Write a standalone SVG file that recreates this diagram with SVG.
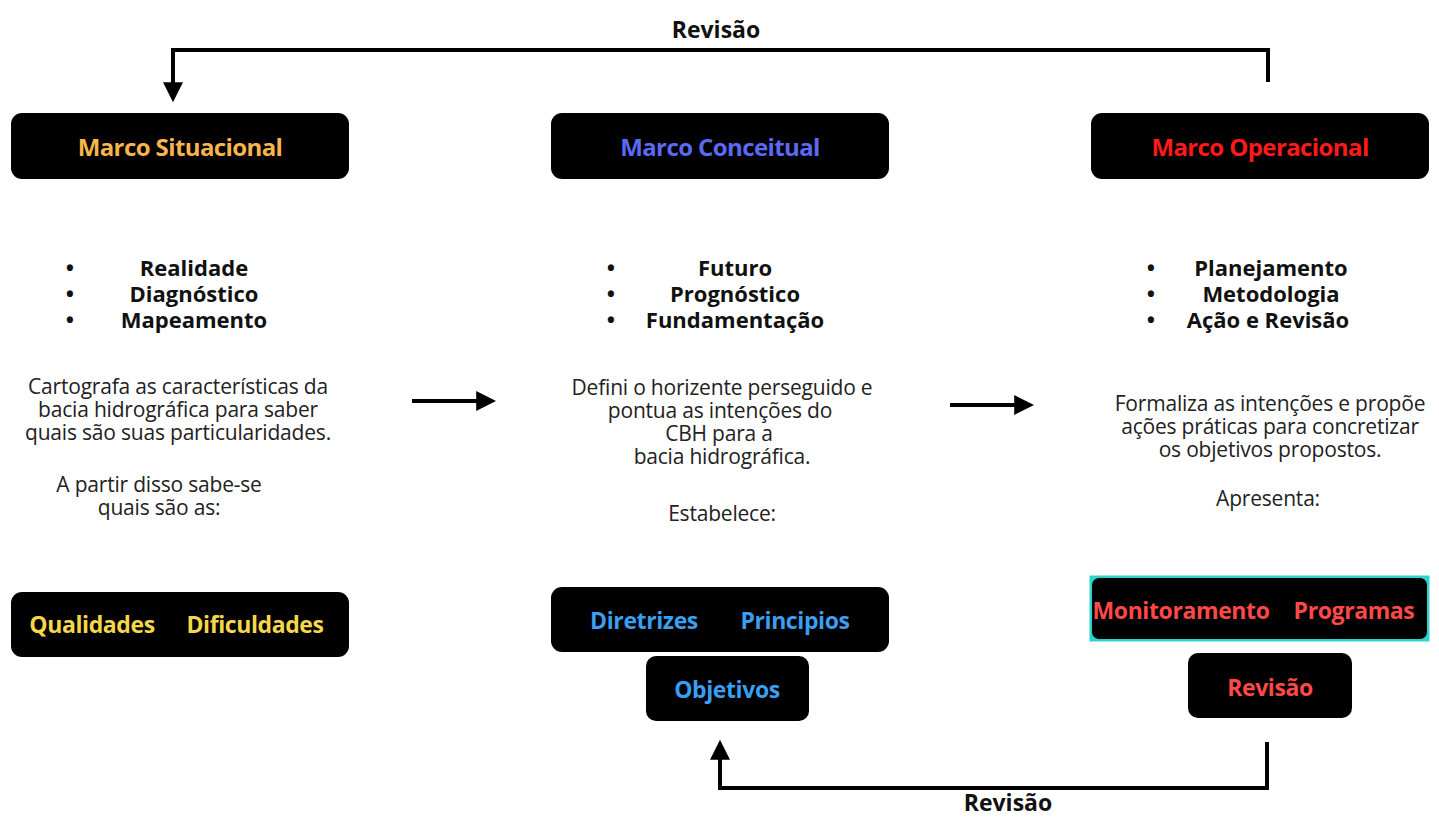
<svg xmlns="http://www.w3.org/2000/svg" width="1439" height="818" viewBox="0 0 1439 818">
  <style>
    .box { fill: #000; }
    .hdr { font-family: "Open Sans", "Liberation Sans", sans-serif; font-weight: 700; font-size: 24px; text-anchor: middle; letter-spacing: -0.6px; }
    .tag { font-family: "Open Sans", "Liberation Sans", sans-serif; font-weight: 700; font-size: 23px; text-anchor: middle; letter-spacing: -0.4px; }
    .bul { font-family: "Open Sans", "Liberation Sans", sans-serif; font-weight: 700; font-size: 22px; fill: #111; text-anchor: middle; }
    .txt { font-family: "Open Sans", "Liberation Sans", sans-serif; font-size: 21px; fill: #222; text-anchor: middle; letter-spacing: -0.2px; }
    .lbl { font-family: "Open Sans", "Liberation Sans", sans-serif; font-weight: 700; font-size: 23px; fill: #111; text-anchor: middle; }
    .wire { fill: none; stroke: #000; stroke-width: 4; }
  </style>
  <defs>
    <marker id="head" markerWidth="5" markerHeight="5" refX="2.2" refY="2.5" orient="auto" markerUnits="strokeWidth">
      <path d="M0,0 L5,2.5 L0,5 z" fill="#000"/>
    </marker>
  </defs>
  <rect width="1439" height="818" fill="#fff"/>

  <!-- connectors -->
  <g id="connectors">
    <path class="wire" d="M1268,82 V50 H173 V91" marker-end="url(#head)"/>
    <path class="wire" d="M1267,742 V788 H720 V751" marker-end="url(#head)"/>
    <path class="wire" d="M412,401 H485" marker-end="url(#head)"/>
    <path class="wire" d="M950,405 H1023" marker-end="url(#head)"/>
    <text class="lbl" x="716" y="38">Revisão</text>
    <text class="lbl" x="1008" y="811">Revisão</text>
  </g>

  <!-- situational frame -->
  <g id="marco-situacional">
    <rect class="box" x="11" y="113" width="338" height="66" rx="11"/>
    <text class="hdr" x="180" y="156" fill="#f7b54c">Marco Situacional</text>
  </g>
  <g id="situacional-texto">
    <text class="bul"><tspan x="70" y="276">•</tspan><tspan x="70" y="302">•</tspan><tspan x="70" y="328">•</tspan></text>
    <text class="bul"><tspan x="194" y="276">Realidade</tspan><tspan x="194" y="302">Diagnóstico</tspan><tspan x="194" y="328">Mapeamento</tspan></text>
    <text class="txt"><tspan x="178" y="394">Cartografa as características da</tspan><tspan x="178" y="417">bacia hidrográfica para saber</tspan><tspan x="178" y="440">quais são suas particularidades.</tspan></text>
    <text class="txt"><tspan x="159" y="492">A partir disso sabe-se</tspan><tspan x="159" y="515">quais são as:</tspan></text>
  </g>
  <g id="qualidades-dificuldades">
    <rect class="box" x="11" y="592" width="338" height="65" rx="11"/>
    <text class="tag" x="92" y="633" fill="#f5d84a">Qualidades</text>
    <text class="tag" x="255" y="633" fill="#f5d84a">Dificuldades</text>
  </g>

  <!-- conceptual frame -->
  <g id="marco-conceitual">
    <rect class="box" x="551" y="113" width="338" height="66" rx="11"/>
    <text class="hdr" x="720" y="156" fill="#5a6af2">Marco Conceitual</text>
  </g>
  <g id="conceitual-texto">
    <text class="bul"><tspan x="611" y="276">•</tspan><tspan x="611" y="302">•</tspan><tspan x="611" y="328">•</tspan></text>
    <text class="bul"><tspan x="735" y="276">Futuro</tspan><tspan x="735" y="302">Prognóstico</tspan><tspan x="735" y="328">Fundamentação</tspan></text>
    <text class="txt"><tspan x="722" y="395">Defini o horizente perseguido e</tspan><tspan x="720" y="418">pontua as intenções do</tspan><tspan x="719" y="441">CBH para a</tspan><tspan x="722" y="464">bacia hidrográfica.</tspan></text>
    <text class="txt" x="722" y="521">Estabelece:</text>
  </g>
  <g id="diretrizes-principios">
    <rect class="box" x="551" y="587" width="338" height="65" rx="11"/>
    <text class="tag" x="644" y="629" fill="#3a9ff0">Diretrizes</text>
    <text class="tag" x="795" y="629" fill="#3a9ff0">Principios</text>
  </g>
  <g id="objetivos">
    <rect class="box" x="646" y="656" width="163" height="65" rx="10"/>
    <text class="tag" x="727" y="698" fill="#3a9ff0">Objetivos</text>
  </g>

  <!-- operational frame -->
  <g id="marco-operacional">
    <rect class="box" x="1091" y="113" width="338" height="66" rx="11"/>
    <text class="hdr" x="1260" y="156" fill="#ff1a1a">Marco Operacional</text>
  </g>
  <g id="operacional-texto">
    <text class="bul"><tspan x="1151" y="276">•</tspan><tspan x="1151" y="302">•</tspan><tspan x="1151" y="328">•</tspan></text>
    <text class="bul"><tspan x="1271" y="276">Planejamento</tspan><tspan x="1271" y="302">Metodologia</tspan><tspan x="1268" y="328">Ação e Revisão</tspan></text>
    <text class="txt"><tspan x="1270" y="411">Formaliza as intenções e propõe</tspan><tspan x="1270" y="434">ações práticas para concretizar</tspan><tspan x="1270" y="457">os objetivos propostos.</tspan></text>
    <text class="txt" x="1268" y="506">Apresenta:</text>
  </g>
  <g id="monitoramento-programas">
    <rect x="1089.5" y="575.5" width="340" height="66" fill="#2ed3d0"/>
    <rect x="1092" y="578" width="335" height="61" rx="7" fill="#000"/>
    <text class="tag" x="1181" y="619" fill="#ff4848">Monitoramento</text>
    <text class="tag" x="1354" y="619" fill="#ff4848">Programas</text>
  </g>
  <g id="revisao">
    <rect class="box" x="1188" y="653" width="164" height="65" rx="10"/>
    <text class="tag" x="1270" y="696" fill="#ff4848">Revisão</text>
  </g>
</svg>
